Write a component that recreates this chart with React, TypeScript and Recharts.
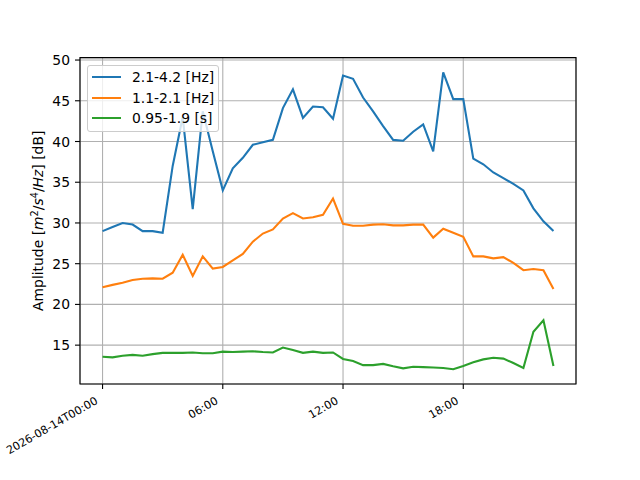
import { CartesianGrid, Legend, Line, LineChart, ReferenceArea, XAxis, YAxis } from 'recharts';

// Half-hourly band amplitudes, hours since 2026-08-14T00:00
const hours = [
  0, 0.5, 1, 1.5, 2, 2.5, 3, 3.5, 4, 4.5, 5, 5.5, 6, 6.5, 7, 7.5, 8, 8.5, 9, 9.5, 10, 10.5, 11,
  11.5, 12, 12.5, 13, 13.5, 14, 14.5, 15, 15.5, 16, 16.5, 17, 17.5, 18, 18.5, 19, 19.5, 20, 20.5,
  21, 21.5, 22, 22.5,
];

const band21to42 = [
  29.0, 29.5, 30.0, 29.8, 29.0, 29.0, 28.8, 37.0, 43.0, 31.7, 43.7, 38.8, 34.0, 36.7, 38.0, 39.6,
  39.9, 40.2, 44.1, 46.4, 42.9, 44.3, 44.2, 42.8, 48.1, 47.7, 45.4, 43.7, 41.9, 40.2, 40.1, 41.2,
  42.1, 38.8, 48.5, 45.2, 45.2, 37.9, 37.2, 36.2, 35.5, 34.8, 34.0, 31.8, 30.2, 29.0,
];

const band11to21 = [
  22.1, 22.4, 22.65, 23.0, 23.15, 23.2, 23.15, 23.9, 26.1, 23.5, 25.9, 24.4, 24.6, 25.4, 26.2,
  27.7, 28.7, 29.2, 30.55, 31.2, 30.55, 30.7, 31.0, 33.0, 29.9, 29.65, 29.65, 29.8, 29.85, 29.7,
  29.7, 29.8, 29.8, 28.2, 29.3, 28.8, 28.3, 25.9, 25.9, 25.65, 25.8, 25.1, 24.2, 24.35, 24.2, 21.9,
];

const period095to19 = [
  13.57, 13.5, 13.7, 13.8, 13.7, 13.9, 14.05, 14.05, 14.05, 14.1, 14.0, 14.0, 14.2, 14.15, 14.2,
  14.25, 14.15, 14.1, 14.7, 14.4, 14.05, 14.2, 14.05, 14.1, 13.3, 13.05, 12.55, 12.55, 12.7, 12.4,
  12.15, 12.35, 12.3, 12.25, 12.2, 12.05, 12.45, 12.9, 13.25, 13.45, 13.35, 12.8, 12.2, 16.65,
  18.05, 12.45,
];

const xTicks = [0, 6, 12, 18];
const xTickLabels = ['2026-08-14T00:00', '06:00', '12:00', '18:00'];
const yTicks = [15, 20, 25, 30, 35, 40, 45, 50];

const seriesNames = ['2.1-4.2 [Hz]', '1.1-2.1 [Hz]', '0.95-1.9 [s]'];
const seriesColors = ['#1f77b4', '#ff7f0e', '#2ca02c'];

const X_DOMAIN: [number, number] = [-1.125, 23.625];
const Y_DOMAIN: [number, number] = [10.23, 50.3];
const FONT = '"DejaVu Sans", sans-serif';

const data = hours.map((h, i) => ({
  h,
  a: band21to42[i],
  b: band11to21[i],
  c: period095to19[i],
}));

// matplotlib-style date label: rotated 30deg, right-aligned under the tick
function XTick(props: any) {
  const { x, y, payload } = props;
  const idx = xTicks.indexOf(payload.value);
  return (
    <g transform={`translate(${x - 4},${y + 12})`}>
      <text
        textAnchor="end"
        transform="rotate(-30)"
        fontSize={11.1}
        fontFamily={FONT}
        fill="#000"
      >
        {xTickLabels[idx]}
      </text>
    </g>
  );
}

function YTick(props: any) {
  const { x, y, payload } = props;
  return (
    <text x={x} y={y} dy="0.36em" textAnchor="end" fontSize={13.9} fontFamily={FONT} fill="#000">
      {payload.value}
    </text>
  );
}

function YLabel(props: any) {
  const vb = props.viewBox || {};
  const cy = (vb.y ?? 57.6) + (vb.height ?? 326.4) / 2;
  return (
    <text
      transform={`translate(43,${cy}) rotate(-90)`}
      textAnchor="middle"
      fontSize={13.9}
      fontFamily={FONT}
      fill="#000"
    >
      Amplitude [<tspan fontStyle="italic">m</tspan>
      <tspan dy={-5} fontSize={9.7}>2</tspan>
      <tspan dy={5}>/</tspan>
      <tspan fontStyle="italic">s</tspan>
      <tspan dy={-5} fontSize={9.7}>4</tspan>
      <tspan dy={5}>/</tspan>
      <tspan fontStyle="italic">Hz</tspan>] [dB]
    </text>
  );
}

function LegendBox() {
  return (
    <div
      style={{
        boxSizing: 'border-box',
        width: 132,
        height: 67,
        border: '1px solid #cccccc',
        borderRadius: 3,
        background: 'rgba(255,255,255,0.8)',
        padding: '1px 0 0 4px',
        fontFamily: FONT,
        fontSize: 13.9,
        color: '#000',
      }}
    >
      {seriesNames.map((name, i) => (
        <div key={name} style={{ display: 'flex', alignItems: 'center', height: 20.5 }}>
          <span
            style={{
              display: 'inline-block',
              width: 29,
              height: 2.1,
              background: seriesColors[i],
              marginRight: 11,
            }}
          />
          <span style={{ whiteSpace: 'nowrap' }}>{name}</span>
        </div>
      ))}
    </div>
  );
}

export default function App() {
  return (
    <div style={{ position: 'absolute', left: 0, top: 0, width: 640, height: 480, background: '#fff' }}>
      <LineChart
        width={640}
        height={480}
        data={data}
        margin={{ top: 57.6, right: 64, bottom: 66, left: 20 }}
      >
        <CartesianGrid stroke="#b0b0b0" strokeWidth={1.1} />
        <XAxis
          dataKey="h"
          type="number"
          domain={X_DOMAIN}
          ticks={xTicks}
          allowDataOverflow
          height={30}
          axisLine={false}
          tickSize={5}
          tickLine={{ stroke: '#000', strokeWidth: 1.1 }}
          tick={<XTick />}
          interval={0}
        />
        <YAxis
          type="number"
          domain={Y_DOMAIN}
          ticks={yTicks}
          allowDataOverflow
          width={60}
          axisLine={false}
          tickSize={5}
          tickMargin={5}
          tickLine={{ stroke: '#000', strokeWidth: 1.1 }}
          tick={<YTick />}
          interval={0}
          label={<YLabel />}
        />
        <Line type="linear" dataKey="a" name={seriesNames[0]} stroke={seriesColors[0]} strokeWidth={2.1} dot={false} isAnimationActive={false} />
        <Line type="linear" dataKey="b" name={seriesNames[1]} stroke={seriesColors[1]} strokeWidth={2.1} dot={false} isAnimationActive={false} />
        <Line type="linear" dataKey="c" name={seriesNames[2]} stroke={seriesColors[2]} strokeWidth={2.1} dot={false} isAnimationActive={false} />
        <ReferenceArea
          x1={X_DOMAIN[0]}
          x2={X_DOMAIN[1]}
          y1={Y_DOMAIN[0]}
          y2={Y_DOMAIN[1]}
          fill="none"
          stroke="#000"
          strokeWidth={1.1}
          ifOverflow="visible"
        />
        <Legend
          layout="horizontal"
          verticalAlign="middle"
          align="center"
          content={() => <LegendBox />}
          wrapperStyle={{ left: 87, top: 65, width: 'auto', height: 'auto' }}
        />
      </LineChart>
    </div>
  );
}
